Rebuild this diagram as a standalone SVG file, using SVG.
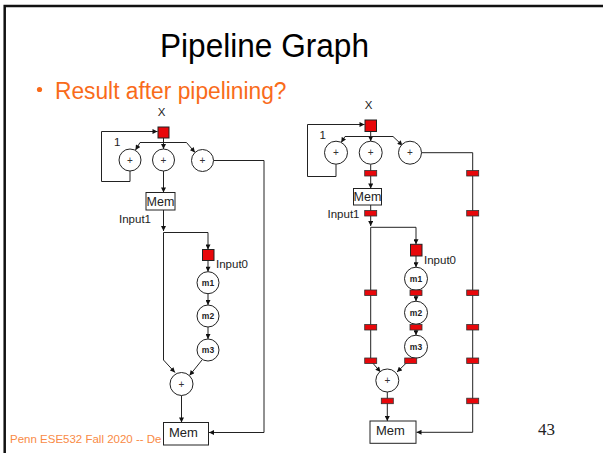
<svg xmlns="http://www.w3.org/2000/svg" width="603" height="453" viewBox="0 0 603 453">
  <style>
    .frame { fill: none; stroke: #111; stroke-width: 2.5; }
    .title { font-family: "Liberation Sans", Arial, sans-serif; font-size: 33px; fill: #000; }
    .bullet { font-family: "Liberation Sans", Arial, sans-serif; font-size: 23px; fill: #F96B1A; }
    .footer { font-family: "Liberation Sans", Arial, sans-serif; font-size: 11.5px; fill: #F98A45; }
    .pagenum { font-family: "Liberation Serif", "Times New Roman", serif; font-size: 17px; fill: #222; }
    .lbl { font-family: "Liberation Sans", Arial, sans-serif; font-size: 11.5px; fill: #222; }
    .op { fill: #fff; stroke: #222; stroke-width: 1; }
    .op-t { font-family: "Liberation Sans", Arial, sans-serif; font-size: 10px; fill: #333; text-anchor: middle; }
    .mul-t { font-family: "Liberation Sans", Arial, sans-serif; font-size: 8.5px; font-weight: bold; fill: #222; text-anchor: middle; }
    .mem { fill: #fff; stroke: #222; stroke-width: 1; }
    .mem-t { font-family: "Liberation Sans", Arial, sans-serif; fill: #222; }
    .io { fill: #E8070A; stroke: #222; stroke-width: 1; }
    .reg { fill: #E8070A; stroke: #333; stroke-width: 0.8; }
    .wire { fill: none; stroke: #222; stroke-width: 1; }
    .arr { marker-end: url(#head); }
  </style>
  <defs>
    <marker id="head" viewBox="0 0 10 10" refX="10" refY="5" markerWidth="6" markerHeight="5" markerUnits="userSpaceOnUse" orient="auto">
      <path d="M0,0 L10,5 L0,10 z" fill="#111"/>
    </marker>
  </defs>

  <rect width="603" height="453" fill="#fff"/>
  <!-- slide frame -->
  <path class="frame" d="M4.7,453 V6 H603"/>

  <text class="title" x="264.5" y="56.5" text-anchor="middle" textLength="209" lengthAdjust="spacingAndGlyphs">Pipeline Graph</text>
  <circle cx="39.5" cy="89.5" r="2.6" fill="#F96B1A"/>
  <text class="bullet" x="55" y="99.3" textLength="231.5" lengthAdjust="spacingAndGlyphs">Result after pipelining?</text>
  <text class="footer" x="10" y="443.3">Penn ESE532 Fall 2020 -- De</text>
  <text class="pagenum" x="538" y="434.5">43</text>

  <!-- ===== original graph ===== -->
  <g id="connectors-original">
    <path class="wire arr" d="M130,171 V181.5 H101.5 V131.5 H157.5"/>
    <path class="wire arr" d="M163.5,138 V149"/>
    <path class="wire" d="M140,142.5 H186.5"/>
    <path class="wire arr" d="M140,142.5 L135.5,150"/>
    <path class="wire arr" d="M186.5,142.5 L195,152.5"/>
    <path class="wire arr" d="M213.5,160.5 H264 V432.5 H209"/>
    <path class="wire arr" d="M163.5,171 V192.5"/>
    <path class="wire arr" d="M163.5,210 V231"/>
    <path class="wire arr" d="M163.5,232.5 H208 V249.5"/>
    <path class="wire arr" d="M163.5,232.5 V360 L175,372.5"/>
    <path class="wire arr" d="M208,260.5 V271.7"/>
    <path class="wire arr" d="M208,293.7 V305"/>
    <path class="wire arr" d="M208,327 V339"/>
    <path class="wire arr" d="M202,360 L189.5,375.5"/>
    <path class="wire arr" d="M181.5,395.5 V422.5"/>
  </g>

  <g id="x-in-a">
    <text class="lbl" x="161.5" y="116" text-anchor="middle">X</text>
    <rect class="io" x="158" y="127" width="11" height="11"/>
  </g>
  <text class="lbl" x="114" y="145.5">1</text>
  <g id="add-loop-a">
    <circle class="op" cx="130" cy="160" r="11"/>
    <text class="op-t" x="130" y="163.5">+</text>
  </g>
  <g id="add-mid-a">
    <circle class="op" cx="163.5" cy="160" r="11"/>
    <text class="op-t" x="163.5" y="163.5">+</text>
  </g>
  <g id="add-right-a">
    <circle class="op" cx="202.5" cy="160.5" r="11"/>
    <text class="op-t" x="202.5" y="164">+</text>
  </g>
  <g id="mem-top-a">
    <rect class="mem" x="146" y="192.5" width="29" height="17.5"/>
    <text class="mem-t" x="160.5" y="205.8" font-size="12.5" text-anchor="middle">Mem</text>
  </g>
  <text class="lbl" x="119" y="223">Input1</text>
  <g id="input0-a">
    <rect class="io" x="202.5" y="249.5" width="11.5" height="11"/>
    <text class="lbl" x="216" y="268.3">Input0</text>
  </g>
  <g id="m1-a">
    <circle class="op" cx="208" cy="282.7" r="11"/>
    <text class="mul-t" x="208" y="285.7">m1</text>
  </g>
  <g id="m2-a">
    <circle class="op" cx="208" cy="316" r="11"/>
    <text class="mul-t" x="208" y="319">m2</text>
  </g>
  <g id="m3-a">
    <circle class="op" cx="208" cy="350" r="11"/>
    <text class="mul-t" x="208" y="353">m3</text>
  </g>
  <g id="add-sum-a">
    <circle class="op" cx="181.5" cy="384" r="11.5"/>
    <text class="op-t" x="181.5" y="387.5">+</text>
  </g>
  <g id="mem-out-a">
    <rect class="mem" x="163.5" y="422.5" width="45" height="22.5"/>
    <text class="mem-t" x="169" y="436.5" font-size="13">Mem</text>
  </g>

  <!-- ===== pipelined graph ===== -->
  <g id="connectors-pipelined">
    <path class="wire arr" d="M336,164.2 V176.5 H307.5 V124.5 H364.5"/>
    <path class="wire arr" d="M370.7,131.5 V141.2"/>
    <path class="wire" d="M345,136.5 H393"/>
    <path class="wire arr" d="M345,136.5 L341.2,142.5"/>
    <path class="wire arr" d="M393,136.5 L402.5,145.5"/>
    <path class="wire arr" d="M421.5,152.7 H472.7 V432.3 H416.5"/>
    <path class="wire arr" d="M370.7,164.2 V188.5"/>
    <path class="wire arr" d="M370.7,205 V226"/>
    <path class="wire arr" d="M370.7,227.3 H416 V244.3"/>
    <path class="wire arr" d="M370.7,227.3 V360.7 L380.5,372"/>
    <path class="wire arr" d="M416,256 V267.2"/>
    <path class="wire arr" d="M416,290.2 V301.2"/>
    <path class="wire arr" d="M416,324.2 V335.2"/>
    <path class="wire arr" d="M412,357.5 L397,372"/>
    <path class="wire arr" d="M387.3,392 V421"/>
  </g>

  <g id="x-in-b">
    <text class="lbl" x="368.5" y="109" text-anchor="middle">X</text>
    <rect class="io" x="365" y="120" width="11.5" height="11.5"/>
  </g>
  <text class="lbl" x="319.5" y="138.5">1</text>
  <g id="add-loop-b">
    <circle class="op" cx="336" cy="152.7" r="11.5"/>
    <text class="op-t" x="336" y="156.2">+</text>
  </g>
  <g id="add-mid-b">
    <circle class="op" cx="370.7" cy="152.7" r="11.5"/>
    <text class="op-t" x="370.7" y="156.2">+</text>
  </g>
  <g id="add-right-b">
    <circle class="op" cx="410" cy="152.7" r="11.5"/>
    <text class="op-t" x="410" y="156.2">+</text>
  </g>
  <g id="mem-top-b">
    <rect class="mem" x="353.5" y="188.5" width="28" height="16.5"/>
    <text class="mem-t" x="367.5" y="201.3" font-size="12.5" text-anchor="middle">Mem</text>
  </g>
  <text class="lbl" x="359.5" y="218" text-anchor="end">Input1</text>
  <g id="input0-b">
    <rect class="io" x="410.5" y="244.3" width="11.5" height="11.7"/>
    <text class="lbl" x="424" y="264">Input0</text>
  </g>
  <g id="m1-b">
    <circle class="op" cx="416" cy="278.7" r="11.5"/>
    <text class="mul-t" x="416" y="281.7">m1</text>
  </g>
  <g id="m2-b">
    <circle class="op" cx="416" cy="312.7" r="11.5"/>
    <text class="mul-t" x="416" y="315.7">m2</text>
  </g>
  <g id="m3-b">
    <circle class="op" cx="416" cy="346.7" r="11.5"/>
    <text class="mul-t" x="416" y="349.7">m3</text>
  </g>
  <g id="add-sum-b">
    <circle class="op" cx="387.3" cy="380.5" r="11.5"/>
    <text class="op-t" x="387.3" y="384">+</text>
  </g>
  <g id="mem-out-b">
    <rect class="mem" x="370" y="421" width="46" height="22.3"/>
    <text class="mem-t" x="376" y="435" font-size="13">Mem</text>
  </g>

  <!-- pipeline registers -->
  <g id="registers">
    <rect id="r-mid-1" class="reg" x="364.7" y="170.5" width="12" height="5.5"/>
    <rect id="r-mem-1" class="reg" x="364.7" y="210.5" width="12" height="5.5"/>
    <rect id="r-left-1" class="reg" x="364.7" y="290" width="12" height="5.5"/>
    <rect id="r-left-2" class="reg" x="364.7" y="324.5" width="12" height="5.5"/>
    <rect id="r-left-3" class="reg" x="364.7" y="358" width="12" height="5.5"/>
    <rect id="r-m1" class="reg" x="410" y="290" width="12" height="5.5"/>
    <rect id="r-m2" class="reg" x="410" y="324.5" width="12" height="5.5"/>
    <rect id="r-m3" class="reg" x="404.7" y="358" width="12" height="5.5"/>
    <rect id="r-sum" class="reg" x="381.3" y="398.2" width="12" height="5.5"/>
    <rect id="r-rail-1" class="reg" x="466.7" y="170.5" width="12" height="5.5"/>
    <rect id="r-rail-2" class="reg" x="466.7" y="210.5" width="12" height="5.5"/>
    <rect id="r-rail-3" class="reg" x="466.7" y="290" width="12" height="5.5"/>
    <rect id="r-rail-4" class="reg" x="466.7" y="324.5" width="12" height="5.5"/>
    <rect id="r-rail-5" class="reg" x="466.7" y="358" width="12" height="5.5"/>
    <rect id="r-rail-6" class="reg" x="466.7" y="398.2" width="12" height="5.5"/>
  </g>
</svg>
